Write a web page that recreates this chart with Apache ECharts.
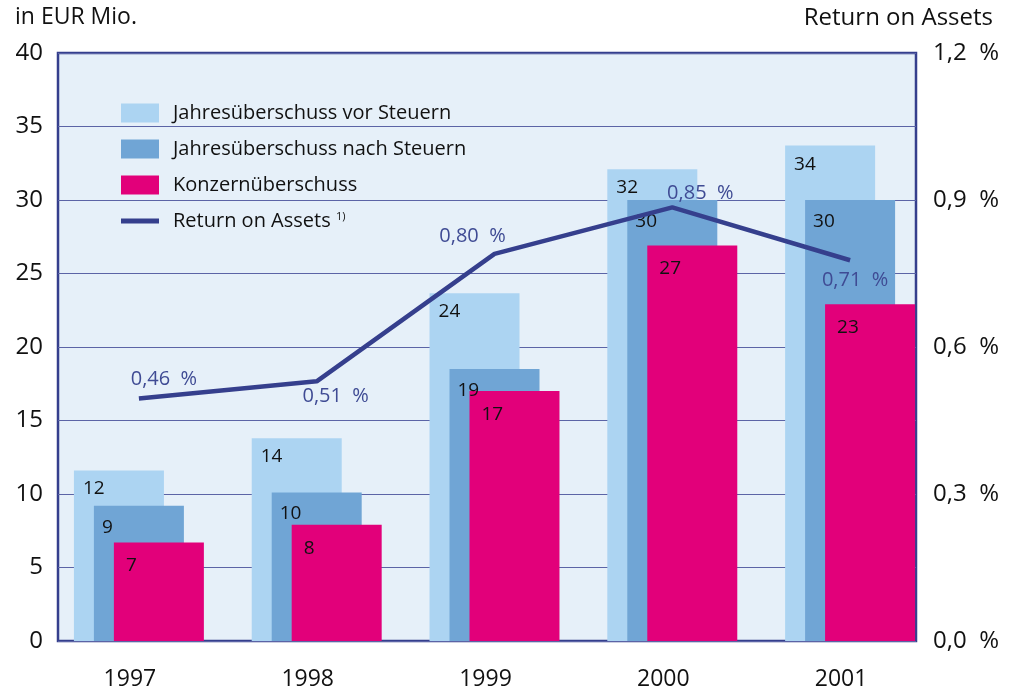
<!DOCTYPE html>
<html style="height: 100%">
<head>
    <meta charset="utf-8">
</head>
<body style="height: 100%; margin: 0; background: #fff">
<div id="container" style="width: 1014px; height: 693px"></div>
<script type="text/javascript" src="https://cdn.jsdelivr.net/npm/echarts@6/dist/echarts.min.js"></script>
<script type="text/javascript">
    // data
    var years = ['1997', '1998', '1999', '2000', '2001'];
    var vorSteuern = [11.6, 13.8, 23.65, 32.1, 33.7];
    var nachSteuern = [9.2, 10.1, 18.5, 30.0, 30.0];
    var konzern = [6.7, 7.9, 17.0, 26.9, 22.9];
    var roa = [0.495, 0.53, 0.79, 0.885, 0.777];      // where the line is drawn
    var roaLabels = ['0,46 %', '0,51 %', '0,80 %', '0,85 %', '0,71 %'];

    var navy = '#353f8d';
    var font = 'Open Sans';

    var dom = document.getElementById("container");
    var myChart = echarts.init(dom);

    function barLabel(pos) {
        return {
            show: true,
            position: pos,
            align: 'left',
            verticalAlign: 'top',
            fontFamily: font,
            fontSize: 19,
            color: '#111',
            formatter: function (p) { return Math.round(p.value); }
        };
    }

    // label placement for the ROA points
    var roaPos = [
        {position: 'top', offset: [25, -4]},
        {position: 'bottom', offset: [19, 0]},
        {position: 'top', offset: [-22, -3]},
        {position: 'top', offset: [28, 1]},
        {position: 'bottom', offset: [5, 5]}
    ];

    var option = {
        animation: false,
        textStyle: {fontFamily: font},
        graphic: [
            {type: 'text', left: 15, top: 6, style: {text: 'in EUR Mio.', font: '23px "Open Sans"', fill: '#111'}},
            {type: 'text', right: 21, top: 6, style: {text: 'Return on Assets', font: '24px "Open Sans"', fill: '#111'}}
        ],
        legend: {
            orient: 'vertical',
            left: 116,
            top: 98,
            itemWidth: 38,
            itemHeight: 19,
            itemGap: 16,
            textStyle: {
                fontFamily: font,
                fontSize: 20,
                color: '#111',
                padding: [0, 0, 0, 9],
                rich: {
                    sup: {fontSize: 11, verticalAlign: 'top', padding: [0, 0, 9, 0]}
                }
            },
            formatter: function (name) {
                return name === 'Return on Assets' ? name + ' {sup|1)}' : name;
            },
            data: [
                {name: 'Jahresüberschuss vor Steuern', icon: 'rect'},
                {name: 'Jahresüberschuss nach Steuern', icon: 'rect'},
                {name: 'Konzernüberschuss', icon: 'rect'},
                {name: 'Return on Assets', icon: 'path://M0 0H38V5H0Z'}
            ]
        },
        grid: [
            {left: 58, right: 98, top: 53, bottom: 52, show: true,
                backgroundColor: '#e6f0f9', borderColor: navy, borderWidth: 2.5},
            {left: 50, right: 75, top: 53, bottom: 52}
        ],
        xAxis: [
            {type: 'category', gridIndex: 0, data: years, show: false},
            {
                type: 'category', gridIndex: 1, data: years,
                axisLine: {show: false}, axisTick: {show: false},
                axisLabel: {fontFamily: font, fontSize: 23, color: '#111', margin: 27, padding: [0, 18, 0, 0]}
            }
        ],
        yAxis: [
            {
                type: 'value', gridIndex: 0, min: 0, max: 40, interval: 5,
                axisLine: {show: false}, axisTick: {show: false},
                axisLabel: {fontFamily: font, fontSize: 24, color: '#111', margin: 15},
                splitLine: {lineStyle: {color: '#5b64a6', width: 1}}
            },
            {
                type: 'value', gridIndex: 0, position: 'right', min: 0, max: 1.2, interval: 0.3,
                axisLine: {show: false}, axisTick: {show: false}, splitLine: {show: false},
                axisLabel: {
                    fontFamily: font, fontSize: 24, color: '#111', margin: 17,
                    formatter: function (v) { return v.toFixed(1).replace('.', ',') + '  %'; }
                }
            },
            {type: 'value', gridIndex: 1, min: 0, max: 40, show: false},
            {type: 'value', gridIndex: 1, min: 0, max: 1.2, show: false}
        ],
        series: [
            {
                name: 'Jahresüberschuss vor Steuern', type: 'bar',
                xAxisIndex: 1, yAxisIndex: 2,
                barWidth: 90, barGap: '-77.8%',
                itemStyle: {color: '#acd4f2'},
                label: barLabel([9, 9]),
                data: vorSteuern
            },
            {
                name: 'Jahresüberschuss nach Steuern', type: 'bar',
                xAxisIndex: 1, yAxisIndex: 2,
                barWidth: 90, barGap: '-77.8%',
                itemStyle: {color: '#70a5d5'},
                label: barLabel([8, 12]),
                data: nachSteuern
            },
            {
                name: 'Konzernüberschuss', type: 'bar',
                xAxisIndex: 1, yAxisIndex: 2,
                barWidth: 90, barGap: '-77.8%',
                itemStyle: {color: '#e2007a'},
                label: barLabel([12, 14]),
                data: konzern
            },
            {
                name: 'Return on Assets', type: 'line',
                xAxisIndex: 1, yAxisIndex: 3,
                symbol: 'circle', symbolSize: 0.1, showSymbol: true, z: 5,
                lineStyle: {color: navy, width: 4.5},
                itemStyle: {color: navy},
                data: roa.map(function (v, i) {
                    return {
                        value: v,
                        label: {
                            show: true,
                            position: roaPos[i].position,
                            offset: roaPos[i].offset,
                            fontFamily: font,
                            fontSize: 20,
                            color: '#3f4b94',
                            formatter: roaLabels[i].replace(' ', '  ')
                        }
                    };
                })
            }
        ]
    };

    if (option && typeof option === "object") {
        myChart.setOption(option, true);
    }
</script>
</body>
</html>
